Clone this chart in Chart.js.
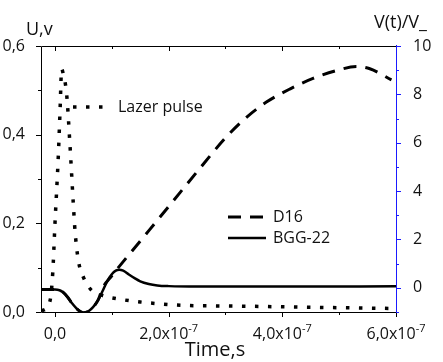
<!DOCTYPE html>
<html>
<head>
<meta charset="utf-8">
<script src="https://cdn.jsdelivr.net/npm/chart.js@4/dist/chart.umd.min.js"></script>
<style>
  html, body { margin: 0; padding: 0; background: #ffffff; }
  #wrap { width: 443px; height: 362px; }
</style>
</head>
<body>
<div id="wrap"><canvas id="c" width="443" height="362"></canvas></div>
<script>
// Laser pulse amplitude U (V) versus time (s)
const laserTime = [-2.34e-8, -0.88e-8, -0.4e-8, 0, 0.58e-8, 0.88e-8, 1.18e-8, 1.4e-8, 2.06e-8, 2.64e-8,
                   3.22e-8, 3.52e-8, 4.1e-8, 4.98e-8, 6.28e-8, 8.2e-8, 10.86e-8, 15e-8, 22.6e-8, 31.3e-8,
                   43.1e-8, 59.5e-8];
const laserU    = [0.002, 0.025, 0.087, 0.2, 0.35, 0.45, 0.548, 0.54, 0.49, 0.376,
                   0.245, 0.184, 0.117, 0.079, 0.051, 0.038, 0.030, 0.0226, 0.015, 0.0135,
                   0.011, 0.008];

// Normalised response V(t)/V_ of the D16 sample
const d16Time = [-2.46e-8, 0, 0.8e-8, 1.5e-8, 2.2e-8, 3.0e-8, 4.0e-8, 5.0e-8, 5.8e-8, 6.7e-8,
                 7.6e-8, 8.4e-8, 10e-8, 15e-8, 20e-8, 25e-8, 30e-8, 33.1e-8, 37.2e-8, 41.4e-8,
                 45.4e-8, 49.6e-8, 53.1e-8, 55.4e-8, 59.2e-8];
const d16V    = [-0.07, -0.07, -0.1, -0.2, -0.38, -0.64, -0.9, -1.03, -0.98, -0.8,
                 -0.5, 0.0, 0.5, 1.93, 3.36, 4.8, 6.2, 6.93, 7.68, 8.23,
                 8.66, 8.99, 9.15, 9.06, 8.6];

// Normalised response V(t)/V_ of the BGG-22 sample
const bggTime = [-2.46e-8, 0, 0.8e-8, 1.5e-8, 2.2e-8, 3.0e-8, 4.0e-8, 5.0e-8, 5.8e-8, 6.7e-8,
                 7.6e-8, 8.4e-8, 9.2e-8, 10e-8, 10.7e-8, 11.3e-8, 12e-8, 13e-8, 14e-8, 15e-8,
                 16.5e-8, 18e-8, 20e-8, 25e-8, 40e-8, 60e-8];
const bggV    = [-0.07, -0.07, -0.1, -0.2, -0.38, -0.64, -0.9, -1.03, -0.98, -0.8,
                 -0.5, -0.12, 0.28, 0.56, 0.71, 0.75, 0.71, 0.55, 0.4, 0.27,
                 0.16, 0.1, 0.07, 0.05, 0.05, 0.06];

// Axis ticks and labels
const xMajorTicks = [0, 2e-7, 4e-7, 6e-7];
const xMinorTicks = [1e-7, 3e-7, 5e-7];
const xTickMantissa = ['0,0', '2,0x10', '4,0x10', '6,0x10'];
const xTickExponent = ['', '-7', '-7', '-7'];
const uMajorTicks = [0, 0.2, 0.4, 0.6];
const uMinorTicks = [0.1, 0.3, 0.5];
const uTickLabels = ['0,0', '0,2', '0,4', '0,6'];
const vMajorTicks = [0, 2, 4, 6, 8, 10];
const vMinorTicks = [-1, 1, 3, 5, 7, 9];
const vTickLabels = ['0', '2', '4', '6', '8', '10'];

const seriesNames = ['Lazer pulse', 'D16', 'BGG-22'];

const FONT = '"Open Sans", "DejaVu Sans", sans-serif';
const toPoints = (xs, ys) => xs.map((x, i) => ({ x: x, y: ys[i] }));

// Frame, tick marks, x labels, axis titles and in-plot legend
const decorations = {
  id: 'decorations',
  afterDraw(chart) {
    const ctx = chart.ctx;
    const a = chart.chartArea;
    const sx = chart.scales.x, su = chart.scales.y, sv = chart.scales.y1;
    ctx.save();
    ctx.lineWidth = 1;
    ctx.setLineDash([]);

    // frame
    ctx.strokeStyle = '#000';
    ctx.beginPath();
    ctx.moveTo(a.right, a.top + 0.5); ctx.lineTo(a.left + 0.5, a.top + 0.5);
    ctx.lineTo(a.left + 0.5, a.bottom + 0.5); ctx.lineTo(a.right, a.bottom + 0.5);
    ctx.stroke();

    // bottom and top ticks
    const tickX = (v, len) => {
      const px = Math.round(sx.getPixelForValue(v)) + 0.5;
      ctx.beginPath();
      ctx.moveTo(px, a.bottom); ctx.lineTo(px, a.bottom + len);
      ctx.moveTo(px, a.top); ctx.lineTo(px, a.top + len);
      ctx.stroke();
    };
    xMajorTicks.forEach(v => tickX(v, 5));
    xMinorTicks.forEach(v => tickX(v, 3));

    // left ticks
    const tickU = (v, len) => {
      const py = Math.round(su.getPixelForValue(v)) + 0.5;
      ctx.beginPath(); ctx.moveTo(a.left, py); ctx.lineTo(a.left - len, py); ctx.stroke();
    };
    uMajorTicks.forEach(v => tickU(v, 5));
    uMinorTicks.forEach(v => tickU(v, 3));

    // right axis in blue
    ctx.strokeStyle = '#1a1aff';
    ctx.beginPath();
    ctx.moveTo(a.right + 0.5, a.top - 1); ctx.lineTo(a.right + 0.5, a.bottom + 1);
    ctx.stroke();
    const tickV = (v, len) => {
      const py = Math.round(sv.getPixelForValue(v)) + 0.5;
      ctx.beginPath(); ctx.moveTo(a.right, py); ctx.lineTo(a.right + len, py); ctx.stroke();
    };
    vMajorTicks.forEach(v => tickV(v, 5));
    vMinorTicks.forEach(v => tickV(v, 3));

    // x tick labels with superscript exponent
    ctx.fillStyle = '#111';
    ctx.textBaseline = 'alphabetic';
    xMajorTicks.forEach((v, i) => {
      const px = sx.getPixelForValue(v);
      ctx.font = '16px ' + FONT;
      const w1 = ctx.measureText(xTickMantissa[i]).width;
      ctx.font = '11px ' + FONT;
      const w2 = xTickExponent[i] ? ctx.measureText(xTickExponent[i]).width : 0;
      const x0 = px - (w1 + w2) / 2;
      ctx.textAlign = 'left';
      ctx.font = '16px ' + FONT;
      ctx.fillText(xTickMantissa[i], x0, 339);
      if (xTickExponent[i]) {
        ctx.font = '11px ' + FONT;
        ctx.fillText(xTickExponent[i], x0 + w1, 332);
      }
    });

    // axis titles
    ctx.textAlign = 'center';
    ctx.font = '20px ' + FONT;
    ctx.fillText('Time,s', 215, 356);
    ctx.textAlign = 'left';
    ctx.font = '18px ' + FONT;
    ctx.fillText('U,v', 26, 35);
    ctx.fillText('V(t)/V_', 374, 28);

    // legend
    const ds = chart.data.datasets;
    const sample = (d, x1, x2, y) => {
      ctx.save();
      ctx.strokeStyle = '#000';
      ctx.lineWidth = d.borderWidth;
      ctx.setLineDash(d.borderDash || []);
      ctx.beginPath(); ctx.moveTo(x1, y); ctx.lineTo(x2, y); ctx.stroke();
      ctx.restore();
    };
    ctx.font = '16px ' + FONT;
    ctx.textBaseline = 'middle';
    sample(ds[0], 73, 110, 107);
    ctx.fillText(seriesNames[0], 118, 107);
    sample(ds[1], 228, 264, 217);
    ctx.fillText(seriesNames[1], 273, 217);
    sample(ds[2], 228, 266, 238);
    ctx.fillText(seriesNames[2], 273, 238);

    ctx.restore();
  }
};

new Chart(document.getElementById('c'), {
  type: 'line',
  data: {
    datasets: [
      {
        label: seriesNames[0],
        data: toPoints(laserTime, laserU),
        yAxisID: 'y',
        borderColor: '#000',
        borderWidth: 3.5,
        borderDash: [3.5, 9.5],
        pointRadius: 0,
        cubicInterpolationMode: 'monotone'
      },
      {
        label: seriesNames[1],
        data: toPoints(d16Time, d16V),
        yAxisID: 'y1',
        borderColor: '#000',
        borderWidth: 3,
        borderDash: [13, 9],
        pointRadius: 0,
        cubicInterpolationMode: 'monotone'
      },
      {
        label: seriesNames[2],
        data: toPoints(bggTime, bggV),
        yAxisID: 'y1',
        borderColor: '#000',
        borderWidth: 2.5,
        pointRadius: 0,
        cubicInterpolationMode: 'monotone'
      }
    ]
  },
  options: {
    responsive: false,
    animation: false,
    devicePixelRatio: 1,
    layout: { padding: { top: 46, left: 0, right: 0, bottom: 0 } },
    plugins: { legend: { display: false }, tooltip: { enabled: false }, title: { display: false } },
    scales: {
      x: {
        type: 'linear',
        min: -2.46e-8,
        max: 6e-7,
        grid: { display: false },
        border: { display: false },
        ticks: { display: false },
        afterBuildTicks: s => { s.ticks = xMajorTicks.map(v => ({ value: v })); },
        afterFit: s => { s.height = 50; }
      },
      y: {
        position: 'left',
        min: 0,
        max: 0.6,
        grid: { display: false },
        border: { display: false },
        afterBuildTicks: s => { s.ticks = uMajorTicks.map(v => ({ value: v })); },
        ticks: {
          padding: 8,
          color: '#111',
          font: { family: FONT, size: 16 },
          callback: (v) => uTickLabels[uMajorTicks.findIndex(t => Math.abs(t - v) < 1e-9)]
        },
        afterFit: s => { s.width = 41; }
      },
      y1: {
        position: 'right',
        min: -1,
        max: 10,
        grid: { display: false },
        border: { display: false },
        afterBuildTicks: s => { s.ticks = vMajorTicks.map(v => ({ value: v })); },
        ticks: {
          padding: 9,
          color: '#111',
          font: { family: FONT, size: 16 },
          callback: (v) => vTickLabels[vMajorTicks.indexOf(v)]
        },
        afterFit: s => { s.width = 47; }
      }
    }
  },
  plugins: [decorations]
});
</script>
</body>
</html>
